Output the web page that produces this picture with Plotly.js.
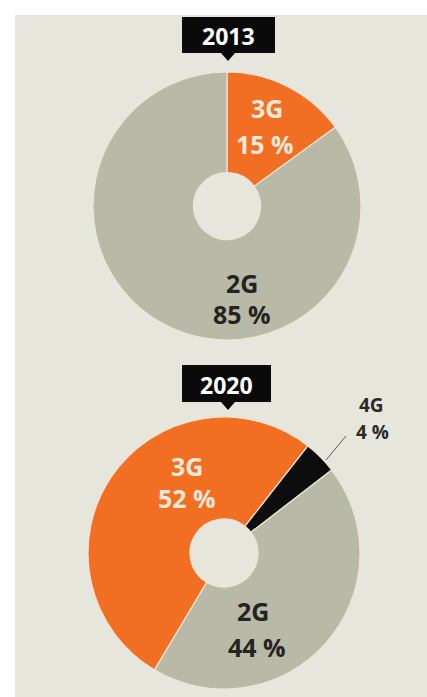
<!DOCTYPE html>
<html>
<head>
<meta charset="utf-8">
<script src="https://cdn.plot.ly/plotly-3.0.1.min.js"></script>
<style>html,body{margin:0;padding:0;background:#fff;}#chart{width:427px;height:697px;}</style>
</head>
<body>
<div id="chart"></div>
<script>
// ---- data ----
const years = ['2013', '2020'];
const labels2013 = ['3G', '2G'];
const values2013 = [15, 85];
const labels2020 = ['4G', '2G', '3G'];
const values2020 = [4, 44, 52];

// ---- styling ----
const W = 427, H = 697;
const px = x => x / W;
const py = y => 1 - y / H;
const COL = {'3G': '#f26e22', '2G': '#b9b9a7', '4G': '#0d0d0d'};
const TXT = {'3G': '#fbeadb', '2G': '#23231f', '4G': '#2a2a26'};
const FONT = '"Open Sans", Lato, sans-serif';

const pieTrace = (labels, values, box, rot) => ({
  type: 'pie', labels: labels, values: values, sort: false,
  direction: 'clockwise', rotation: rot, hole: 0.25,
  marker: {colors: labels.map(l => COL[l]), line: {color: '#f2e4d4', width: 1.2}},
  textinfo: 'none', hoverinfo: 'none', showlegend: false,
  domain: {x: [px(box[0]), px(box[2])], y: [py(box[3]), py(box[1])]}
});

const traces = [
  pieTrace(labels2013, values2013, [93, 72, 361, 340], 0),
  pieTrace(labels2020, values2020, [88, 417, 360, 689], 38)
];

// label positions (pixel) for name / percentage lines
const labelPos = [
  {'3G': [[267, 108], [265, 144]], '2G': [[242, 283], [242, 314]]},
  {'3G': [[187, 466], [187, 498]], '2G': [[253, 611], [257, 647]], '4G': [[371, 405], [372, 432]]}
];
const annotations = [];
[[labels2013, values2013], [labels2020, values2020]].forEach((d, i) => {
  d[0].forEach((lab, j) => {
    const p = labelPos[i][lab];
    const size = lab === '4G' ? 19 : 25;
    const f = {family: FONT, size: size, color: TXT[lab], weight: 'bold'};
    annotations.push({xref: 'paper', yref: 'paper', x: px(p[0][0]), y: py(p[0][1]), text: lab,
      showarrow: false, font: f, xanchor: 'center', yanchor: 'middle', borderpad: 0});
    annotations.push({xref: 'paper', yref: 'paper', x: px(p[1][0]), y: py(p[1][1]), text: d[1][j] + ' %',
      showarrow: false, font: f, xanchor: 'center', yanchor: 'middle', borderpad: 0});
  });
});
// year boxes
const boxes = [[182, 17, 275, 53], [182, 365, 271, 402]];
const shapes = [
  {type: 'rect', xref: 'paper', yref: 'paper', x0: px(15), x1: 1, y0: 0, y1: py(15),
   fillcolor: '#e7e6dd', line: {width: 0}, layer: 'below'}
];
years.forEach((yr, i) => {
  const b = boxes[i];
  shapes.push({type: 'rect', xref: 'paper', yref: 'paper', x0: px(b[0]), x1: px(b[2]), y0: py(b[3]), y1: py(b[1]),
    fillcolor: '#0a0a0a', line: {width: 0}});
  const cx = 228;
  shapes.push({type: 'path', xref: 'paper', yref: 'paper',
    path: `M ${px(cx - 7)} ${py(b[3])} L ${px(cx + 7)} ${py(b[3])} L ${px(cx)} ${py(b[3] + 8)} Z`,
    fillcolor: '#0a0a0a', line: {width: 0}});
  annotations.push({xref: 'paper', yref: 'paper', x: px((b[0] + b[2]) / 2), y: py((b[1] + b[3]) / 2 + 1), text: yr,
    showarrow: false, font: {family: FONT, size: 23, color: '#ffffff', weight: 'bold'}, xanchor: 'center', yanchor: 'middle'});
});
// 4G leader line
shapes.push({type: 'line', xref: 'paper', yref: 'paper', x0: px(346), y0: py(436), x1: px(326), y1: py(460),
  line: {color: '#555', width: 1}});

const layout = {
  width: W, height: H, margin: {l: 0, r: 0, t: 0, b: 0},
  paper_bgcolor: '#ffffff', plot_bgcolor: 'rgba(0,0,0,0)',
  shapes: shapes, annotations: annotations
};
Plotly.newPlot('chart', traces, layout, {displayModeBar: false, staticPlot: true});
</script>
</body>
</html>
